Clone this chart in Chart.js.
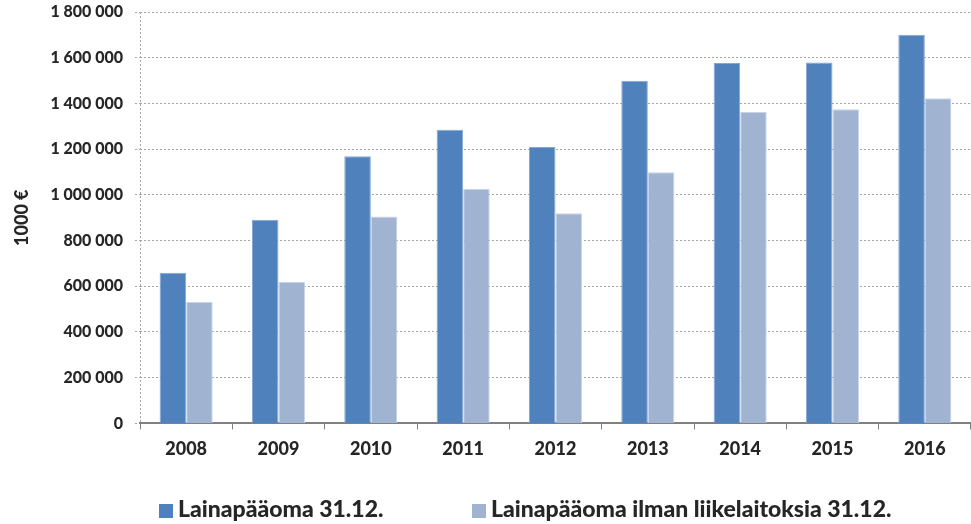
<!DOCTYPE html>
<html>
<head>
<meta charset="utf-8">
<script src="https://cdn.jsdelivr.net/npm/chart.js@4.4.1/dist/chart.umd.min.js"></script>
<style>
  body { margin: 0; background: #fff; }
  #wrap { position: relative; width: 971px; height: 524px; }
  #legend { position: absolute; left: 0; top: 494px; width: 971px; font: 900 23px Lato, sans-serif; color: #262626; }
  #legend span.item { position: absolute; top: 0; white-space: nowrap; }
  #legend span.box { display: inline-block; width: 14px; height: 14px; margin-right: 5px; vertical-align: -1px; }
</style>
</head>
<body>
<div id="wrap">
  <canvas id="chart" width="971" height="524"></canvas>
  <div id="legend"></div>
</div>
<script>
let years = ['2008', '2009', '2010', '2011', '2012', '2013', '2014', '2015', '2016'];
let lainapaaoma = [659000, 891000, 1169000, 1285000, 1209000, 1499000, 1577000, 1579000, 1700000];
let ilmanLiikelaitoksia = [531000, 620000, 905000, 1027000, 919000, 1099000, 1364000, 1374000, 1423000];
let seriesNames = ['Lainapääoma 31.12.', 'Lainapääoma ilman liikelaitoksia 31.12.'];
let seriesColors = ['#4F81BD', '#A0B4D2'];

let fmt = v => String(v).replace(/\B(?=(\d{3})+(?!\d))/g, ' ');
let textColor = '#262626';

let chart = new Chart(document.querySelector('#chart'), {
    type: 'bar',
    data: {
        labels: years,
        datasets: [{
            label: seriesNames[0],
            data: lainapaaoma,
            backgroundColor: seriesColors[0],
            borderColor: '#86A6D2',
            borderWidth: 1
        }, {
            label: seriesNames[1],
            data: ilmanLiikelaitoksia,
            backgroundColor: seriesColors[1],
            borderColor: '#C9D6E8',
            borderWidth: 1
        }]
    },
    options: {
        responsive: false,
        animation: false,
        layout: { padding: { top: 12, right: 0, bottom: 55, left: 0 } },
        plugins: {
            legend: { display: false },
            tooltip: { enabled: false }
        },
        datasets: {
            bar: { categoryPercentage: 0.575, barPercentage: 1 }
        },
        scales: {
            x: {
                offset: true,
                afterFit: scale => { scale.paddingLeft = 0; scale.paddingRight = 0; },
                grid: {
                    offset: true,
                    color: ctx => ctx.index === 0 ? '#A6A6A6' : 'rgba(0,0,0,0)',
                    tickColor: '#808080',
                    tickLength: 6,
                    lineWidth: 1
                },
                border: { color: '#808080', width: 2, dash: [2, 2] },
                ticks: {
                    color: textColor,
                    padding: 9,
                    font: { family: 'Lato', size: 18, weight: '900' }
                }
            },
            y: {
                min: 0,
                max: 1800000,
                afterFit: scale => { scale.width = 140; scale.paddingTop = 0; scale.paddingBottom = 0; },
                grid: {
                    color: '#A6A6A6',
                    tickColor: '#A6A6A6',
                    tickLength: 5,
                    tickBorderDash: [2, 2]
                },
                border: { display: false, dash: [2, 2] },
                ticks: {
                    stepSize: 200000,
                    color: textColor,
                    padding: 12,
                    font: { family: 'Lato', size: 16, weight: '900' },
                    callback: v => fmt(v)
                },
                title: {
                    display: true,
                    text: '1000 €',
                    color: textColor,
                    padding: { top: 11, bottom: 0 },
                    font: { family: 'Lato', size: 18, weight: '900' }
                }
            }
        }
    }
});

let legendPos = [159, 472];
let legend = document.querySelector('#legend');
seriesNames.forEach((name, i) => {
    let item = document.createElement('span');
    item.className = 'item';
    item.style.left = legendPos[i] + 'px';
    let box = document.createElement('span');
    box.className = 'box';
    box.style.background = seriesColors[i];
    item.appendChild(box);
    item.appendChild(document.createTextNode(name));
    legend.appendChild(item);
});
</script>
</body>
</html>
